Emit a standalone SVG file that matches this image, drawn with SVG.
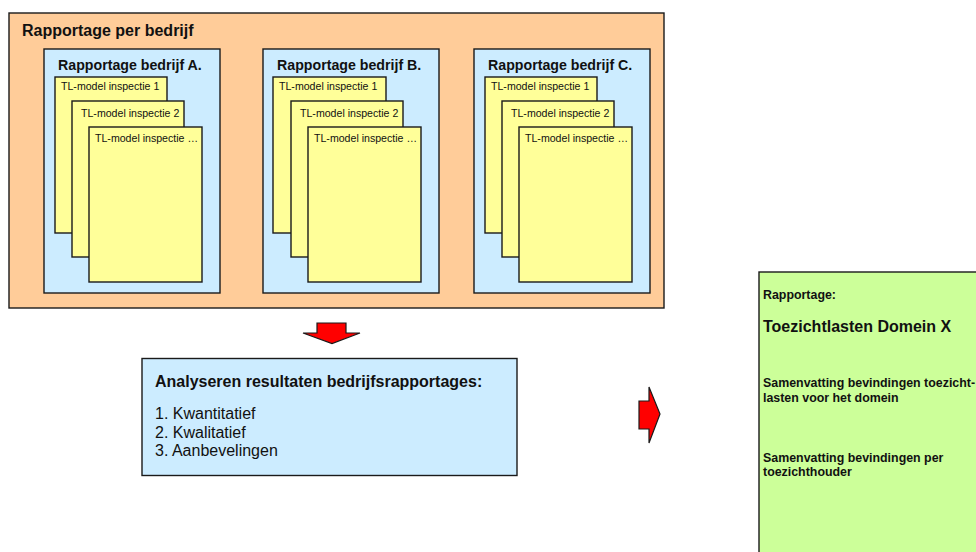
<svg xmlns="http://www.w3.org/2000/svg" width="976" height="552" viewBox="0 0 976 552">
  <style>
    .box { stroke: #1a1a1a; stroke-width: 1.4; }
    .orange { fill: #FFCC99; }
    .blue { fill: #CCECFF; }
    .page { fill: #FFFF99; stroke: #1a1a1a; stroke-width: 1.4; }
    .green { fill: #CCFF99; }
    .arrow { fill: #FF0000; stroke: #1a1a1a; stroke-width: 1.2; stroke-linejoin: miter; }
    text { font-family: "Liberation Sans", Arial, sans-serif; fill: #111; }
    .t16b { font-size: 16px; font-weight: bold; }
    .t14b { font-size: 14.2px; font-weight: bold; }
    .t16 { font-size: 16px; }
    .pg { font-size: 10.6px; }
    .t12b { font-size: 12.4px; font-weight: bold; }
  </style>

  <!-- Reports per company -->
  <g id="rapportage-per-bedrijf">
    <rect class="box orange" x="9" y="13" width="655" height="295"/>
    <text class="t16b" x="22" y="35.5">Rapportage per bedrijf</text>
  </g>

  <g id="bedrijf-a">
    <rect class="box blue" x="44" y="49" width="176" height="244"/>
    <text class="t14b" x="58" y="69.5">Rapportage bedrijf A.</text>
    <rect class="page" x="55" y="77" width="112" height="156"/>
    <text class="pg" x="61" y="90">TL-model inspectie 1</text>
    <rect class="page" x="72" y="101" width="112" height="156"/>
    <text class="pg" x="81" y="116.5">TL-model inspectie 2</text>
    <rect class="page" x="89" y="127" width="113" height="155"/>
    <text class="pg" x="95" y="142">TL-model inspectie …</text>
  </g>

  <g id="bedrijf-b">
    <rect class="box blue" x="263" y="49" width="176" height="244"/>
    <text class="t14b" x="277" y="69.5">Rapportage bedrijf B.</text>
    <rect class="page" x="273" y="77" width="113" height="156"/>
    <text class="pg" x="279" y="90">TL-model inspectie 1</text>
    <rect class="page" x="291" y="101" width="112" height="156"/>
    <text class="pg" x="300" y="116.5">TL-model inspectie 2</text>
    <rect class="page" x="308" y="127" width="113" height="155"/>
    <text class="pg" x="314" y="142">TL-model inspectie …</text>
  </g>

  <g id="bedrijf-c">
    <rect class="box blue" x="474" y="49" width="176" height="244"/>
    <text class="t14b" x="488" y="69.5">Rapportage bedrijf C.</text>
    <rect class="page" x="485" y="77" width="112" height="156"/>
    <text class="pg" x="491" y="90">TL-model inspectie 1</text>
    <rect class="page" x="502" y="101" width="112" height="156"/>
    <text class="pg" x="511" y="116.5">TL-model inspectie 2</text>
    <rect class="page" x="519" y="127" width="113" height="155"/>
    <text class="pg" x="525" y="142">TL-model inspectie …</text>
  </g>

  <!-- Analysis step -->
  <g id="analyseren">
    <rect class="box blue" x="142" y="358.5" width="375" height="117"/>
    <text class="t16b" x="155" y="387">Analyseren resultaten bedrijfsrapportages:</text>
    <text class="t16" x="155" y="419">1. Kwantitatief</text>
    <text class="t16" x="155" y="437.5">2. Kwalitatief</text>
    <text class="t16" x="155" y="456">3. Aanbevelingen</text>
  </g>

  <!-- Final report -->
  <g id="rapportage-domein">
    <rect class="box green" x="759" y="272" width="240" height="300"/>
    <text class="t12b" x="763" y="299">Rapportage:</text>
    <text class="t16b" x="763" y="332">Toezichtlasten Domein X</text>
    <text class="t12b" x="763" y="387">Samenvatting bevindingen toezicht-</text>
    <text class="t12b" x="763" y="401.5">lasten voor het domein</text>
    <text class="t12b" x="763" y="461.5">Samenvatting bevindingen per</text>
    <text class="t12b" x="763" y="476">toezichthouder</text>
  </g>

  <!-- Connectors: block arrows -->
  <g id="connectors">
    <polygon class="arrow" points="317,323 346,323 346,333 360,333 332,343.5 303,333 317,333"/>
    <polygon class="arrow" points="639,401 649,401 649,387 660,414 649,443 649,429 639,429"/>
  </g>
</svg>
